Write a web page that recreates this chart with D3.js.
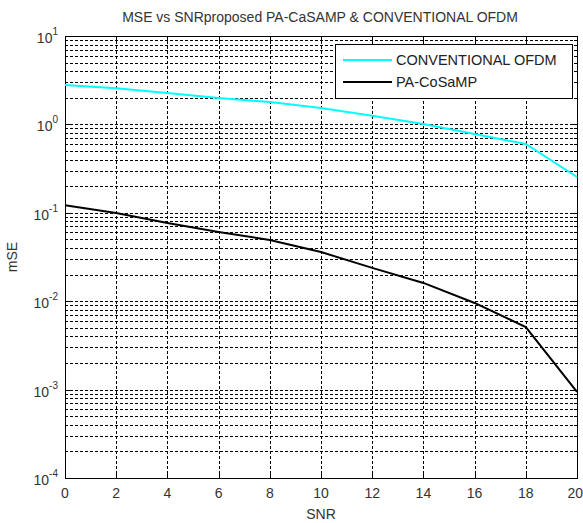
<!DOCTYPE html>
<html>
<head>
<meta charset="utf-8">
<script src="https://cdn.jsdelivr.net/npm/d3@7"></script>
<style>
  html, body { margin: 0; padding: 0; background: #fff; }
  svg { display: block; font-family: "Liberation Sans", Arial, sans-serif; }
</style>
</head>
<body>
<svg id="chart" width="583" height="523"></svg>
<script>
// data
const snr = [0, 2, 4, 6, 8, 10, 12, 14, 16, 18, 20];
const mseOfdm = [2.79, 2.56, 2.26, 1.99, 1.79, 1.53, 1.25, 1.01, 0.78, 0.60, 0.254];
const mseCosamp = [0.122, 0.0996, 0.0767, 0.0607, 0.0492, 0.036, 0.0238, 0.0161, 0.00955, 0.0051, 0.00094];
const xTicks = [0, 2, 4, 6, 8, 10, 12, 14, 16, 18, 20];
const yDecades = [-4, -3, -2, -1, 0, 1];
const seriesNames = ["CONVENTIONAL OFDM", "PA-CoSaMP"];
const seriesColors = ["#00ffff", "#000000"];

const svg = d3.select("#chart");
const plotL = 65, plotR = 577, plotT = 36, plotB = 478;

const x = d3.scaleLinear().domain([0, 20]).range([plotL, plotR]);
const y = d3.scaleLog().domain([1e-4, 10]).range([plotB, plotT]);

// grid: dashed, major + minor for log axis
const minor = [];
for (let e = -4; e < 1; e++) {
  for (let m = 2; m <= 9; m++) minor.push(m * Math.pow(10, e));
}
const hGrid = minor.concat(yDecades.slice(1, -1).map(d => Math.pow(10, d)));

const grid = svg.append("g").attr("fill", "none").attr("stroke", "#000").attr("stroke-width", 1)
  .attr("stroke-dasharray", "3,2");

hGrid.forEach(v => {
  const py = Math.round(y(v)) + 0.5;
  grid.append("path").attr("d", `M${plotL},${py}H${plotR}`);
});
xTicks.slice(1, -1).forEach(t => {
  const px = Math.round(x(t)) + 0.5;
  grid.append("path").attr("d", `M${px},${plotT}V${plotB}`);
});

// inner tick marks on all four sides
const ticks = svg.append("g").attr("stroke", "#000").attr("stroke-width", 1).attr("shape-rendering", "crispEdges");
xTicks.forEach(t => {
  const px = Math.round(x(t)) + 0.5;
  ticks.append("line").attr("x1", px).attr("x2", px).attr("y1", plotB).attr("y2", plotB - 5);
  ticks.append("line").attr("x1", px).attr("x2", px).attr("y1", plotT).attr("y2", plotT + 5);
});
minor.concat(yDecades.map(d => Math.pow(10, d))).forEach(v => {
  const py = Math.round(y(v)) + 0.5;
  const len = minor.includes(v) ? 3 : 5;
  ticks.append("line").attr("x1", plotL).attr("x2", plotL + len).attr("y1", py).attr("y2", py);
  ticks.append("line").attr("x1", plotR).attr("x2", plotR - len).attr("y1", py).attr("y2", py);
});

// frame
svg.append("rect")
  .attr("x", plotL + 0.5).attr("y", plotT + 0.5)
  .attr("width", plotR - plotL).attr("height", plotB - plotT)
  .attr("fill", "none").attr("stroke", "#000").attr("stroke-width", 1);

// series
const line = d3.line().x((d, i) => x(snr[i])).y(d => y(d));
[mseOfdm, mseCosamp].forEach((vals, k) => {
  svg.append("path")
    .datum(vals)
    .attr("d", line)
    .attr("fill", "none")
    .attr("stroke", seriesColors[k])
    .attr("stroke-width", 2);
});

// x tick labels (last one kept inside the window)
svg.append("g").selectAll("text").data(xTicks).join("text")
  .attr("x", d => d === 20 ? 583 : x(d)).attr("y", 498)
  .attr("text-anchor", d => d === 20 ? "end" : "middle")
  .attr("font-size", 14).attr("fill", "#333")
  .text(d => d);

// y tick labels 10^n
const yl = svg.append("g").attr("fill", "#333");
yDecades.forEach(e => {
  const t = yl.append("text")
    .attr("x", 58).attr("y", y(Math.pow(10, e)) + 7)
    .attr("text-anchor", "end")
    .attr("font-size", 14);
  t.append("tspan").text("10");
  t.append("tspan").attr("font-size", 10).attr("dy", -8).text(e);
});

// title and axis labels
svg.append("text").attr("x", 320).attr("y", 22).attr("text-anchor", "middle")
  .attr("font-size", 14).attr("fill", "#333")
  .text("MSE vs SNRproposed PA-CaSAMP & CONVENTIONAL OFDM");
svg.append("text").attr("x", 321).attr("y", 519).attr("text-anchor", "middle")
  .attr("font-size", 14).attr("fill", "#333").text("SNR");
svg.append("text").attr("transform", "translate(17,257) rotate(-90)")
  .attr("text-anchor", "middle").attr("font-size", 14).attr("fill", "#333").text("mSE");

// legend
const lg = svg.append("g");
lg.append("rect").attr("x", 335.5).attr("y", 44.5).attr("width", 237).attr("height", 54)
  .attr("fill", "#fff").attr("stroke", "#000").attr("stroke-width", 1);
seriesNames.forEach((name, i) => {
  const ly = 60 + i * 22;
  lg.append("line").attr("x1", 343).attr("x2", 392).attr("y1", ly).attr("y2", ly)
    .attr("stroke", seriesColors[i]).attr("stroke-width", 2);
  lg.append("text").attr("x", 396).attr("y", ly + 5).attr("font-size", 14.5).attr("fill", "#222").text(name);
});
</script>
</body>
</html>
